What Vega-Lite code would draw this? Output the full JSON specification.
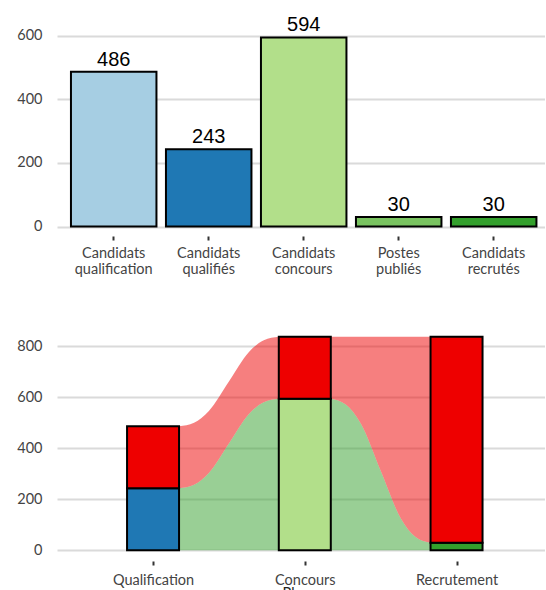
{
  "$schema": "https://vega.github.io/schema/vega-lite/v6.json",
  "padding": {"left": 16, "top": 15, "right": 0, "bottom": -10},
  "spacing": 50,
  "config": {
    "view": {"stroke": null},
    "axis": {"domain": false, "labelFont": "Lato", "labelFontSize": 14.5, "labelColor": "#444444", "gridColor": "#DADADA", "gridWidth": 2, "titleFont": "Lato", "titleFontSize": 14.5, "titleFontWeight": "normal", "titleColor": "#222222"}
  },
  "resolve": {"scale": {"color": "independent"}},
  "vconcat": [
    {
      "width": 488,
      "height": 208,
      "data": {"values": [
        {"cat": "Candidats qualification", "n": 486},
        {"cat": "Candidats qualifiés", "n": 243},
        {"cat": "Candidats concours", "n": 594},
        {"cat": "Postes publiés", "n": 30},
        {"cat": "Candidats recrutés", "n": 30}
      ]},
      "encoding": {
        "x": {"field": "cat", "type": "nominal", "sort": null,
          "scale": {"paddingInner": 0.1, "paddingOuter": 0.1185, "align": 0.62},
          "axis": {"title": null, "labelAngle": 0, "labelExpr": "split(datum.value, ' ')", "ticks": true, "tickSize": 4, "tickWidth": 2, "tickColor": "#333333", "labelPadding": 6, "labelLineHeight": 16, "grid": false}},
        "y": {"field": "n", "type": "quantitative",
          "scale": {"domain": [-29.7, 623.7], "nice": false, "zero": false},
          "axis": {"title": null, "values": [0, 200, 400, 600], "ticks": false, "tickSize": 0, "labelPadding": 15}}
      },
      "layer": [
        {"mark": {"type": "bar", "stroke": "black", "strokeWidth": 2},
          "encoding": {
            "y2": {"datum": 0},
            "color": {"field": "cat", "type": "nominal", "sort": null,
              "scale": {"domain": ["Candidats qualification", "Candidats qualifiés", "Candidats concours", "Postes publiés", "Candidats recrutés"],
                "range": ["#A6CEE3", "#1F78B4", "#B2DF8A", "#79C360", "#33A02C"]},
              "legend": null}
          }},
        {"mark": {"type": "text", "font": "Liberation Sans", "fontSize": 20, "baseline": "bottom", "dy": -2, "color": "black"},
          "encoding": {"text": {"field": "n", "type": "quantitative"}}}
      ]
    },
    {
      "width": 488,
      "height": 235,
      "resolve": {"scale": {"color": "independent"}},
      "layer": [
        {
          "data": {"values": [
            {"flow": "g1", "type": "ok", "x": 1.171, "lo": 0, "hi": 243},
            {"flow": "g1", "type": "ok", "x": 1.270, "lo": 0, "hi": 257},
            {"flow": "g1", "type": "ok", "x": 1.368, "lo": 0, "hi": 303},
            {"flow": "g1", "type": "ok", "x": 1.500, "lo": 0, "hi": 418.5},
            {"flow": "g1", "type": "ok", "x": 1.632, "lo": 0, "hi": 534},
            {"flow": "g1", "type": "ok", "x": 1.730, "lo": 0, "hi": 580},
            {"flow": "g1", "type": "ok", "x": 1.829, "lo": 0, "hi": 594},
            {"flow": "r1", "type": "non", "x": 1.171, "lo": 243, "hi": 486},
            {"flow": "r1", "type": "non", "x": 1.270, "lo": 257, "hi": 500},
            {"flow": "r1", "type": "non", "x": 1.368, "lo": 303, "hi": 546},
            {"flow": "r1", "type": "non", "x": 1.500, "lo": 418.5, "hi": 661.5},
            {"flow": "r1", "type": "non", "x": 1.632, "lo": 534, "hi": 777},
            {"flow": "r1", "type": "non", "x": 1.730, "lo": 580, "hi": 823},
            {"flow": "r1", "type": "non", "x": 1.829, "lo": 594, "hi": 837},
            {"flow": "g2", "type": "ok", "x": 2.171, "lo": 0, "hi": 594},
            {"flow": "g2", "type": "ok", "x": 2.270, "lo": 0, "hi": 571.4},
            {"flow": "g2", "type": "ok", "x": 2.368, "lo": 0, "hi": 498.1},
            {"flow": "g2", "type": "ok", "x": 2.500, "lo": 0, "hi": 312},
            {"flow": "g2", "type": "ok", "x": 2.632, "lo": 0, "hi": 125.9},
            {"flow": "g2", "type": "ok", "x": 2.730, "lo": 0, "hi": 52.6},
            {"flow": "g2", "type": "ok", "x": 2.829, "lo": 0, "hi": 30},
            {"flow": "r2", "type": "non", "x": 2.171, "lo": 594, "hi": 837},
            {"flow": "r2", "type": "non", "x": 2.270, "lo": 571.4, "hi": 837},
            {"flow": "r2", "type": "non", "x": 2.368, "lo": 498.1, "hi": 837},
            {"flow": "r2", "type": "non", "x": 2.500, "lo": 312, "hi": 837},
            {"flow": "r2", "type": "non", "x": 2.632, "lo": 125.9, "hi": 837},
            {"flow": "r2", "type": "non", "x": 2.730, "lo": 52.6, "hi": 837},
            {"flow": "r2", "type": "non", "x": 2.829, "lo": 30, "hi": 837}
          ]},
          "mark": {"type": "area", "interpolate": "monotone", "opacity": 0.5},
          "encoding": {
            "x": {"field": "x", "type": "quantitative",
              "scale": {"domain": [0.4, 3.55], "nice": false, "zero": false},
              "axis": {"title": "Phase", "titlePadding": 0, "values": [1, 2, 3], "labelExpr": "datum.value == 1 ? 'Qualification' : datum.value == 2 ? 'Concours' : 'Recrutement'", "grid": false, "ticks": true, "tickSize": 4, "tickWidth": 2, "tickColor": "#333333", "labelPadding": 8}},
            "y": {"field": "hi", "type": "quantitative",
              "scale": {"domain": [-41.85, 878.85], "nice": false, "zero": false},
              "axis": {"title": null, "values": [0, 200, 400, 600, 800], "ticks": false, "tickSize": 0, "labelPadding": 15}},
            "y2": {"field": "lo"},
            "detail": {"field": "flow"},
            "color": {"field": "type", "type": "nominal",
              "scale": {"domain": ["ok", "non"], "range": ["#33A02C", "#EE0000"]}, "legend": null}
          }
        },
        {
          "data": {"values": [
            {"phase": 1, "grp": "Qualifiés", "n": 243, "ord": 1},
            {"phase": 1, "grp": "Non retenus", "n": 243, "ord": 2},
            {"phase": 2, "grp": "Concours", "n": 594, "ord": 1},
            {"phase": 2, "grp": "Non retenus", "n": 243, "ord": 2},
            {"phase": 3, "grp": "Recrutés", "n": 30, "ord": 1},
            {"phase": 3, "grp": "Non retenus", "n": 807, "ord": 2}
          ]},
          "mark": {"type": "bar", "size": 52, "stroke": "black", "strokeWidth": 2},
          "encoding": {
            "x": {"field": "phase", "type": "quantitative"},
            "y": {"field": "n", "type": "quantitative", "stack": "zero"},
            "order": {"field": "ord", "type": "quantitative"},
            "color": {"field": "grp", "type": "nominal",
              "scale": {"domain": ["Qualifiés", "Concours", "Recrutés", "Non retenus"], "range": ["#1F78B4", "#B2DF8A", "#33A02C", "#EE0000"]}, "legend": null}
          }
        }
      ]
    }
  ]
}
